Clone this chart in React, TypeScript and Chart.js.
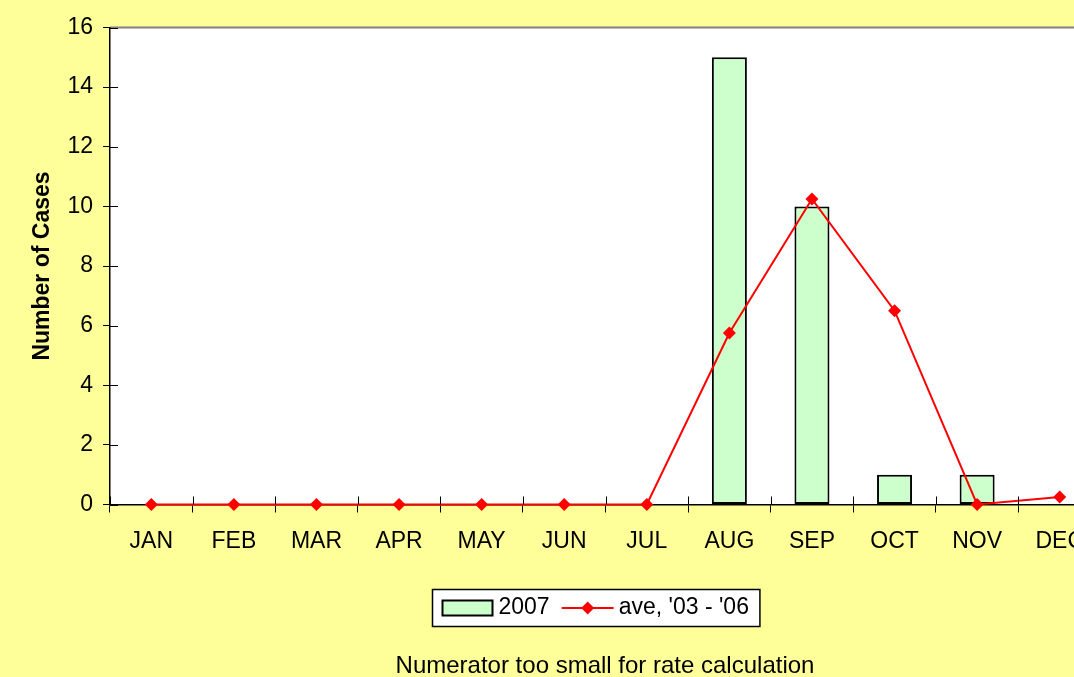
import React, { useEffect, useRef } from "react";
import { Chart, registerables } from "chart.js";

Chart.register(...registerables);

// ---- data ----
const months = ["JAN", "FEB", "MAR", "APR", "MAY", "JUN", "JUL", "AUG", "SEP", "OCT", "NOV", "DEC"];
const cases2007 = [0, 0, 0, 0, 0, 0, 0, 15, 10, 1, 1, 0];
const average0306 = [0, 0, 0, 0, 0, 0, 0, 5.75, 10.25, 6.5, 0, 0.25];
const seriesLabels = ["2007", "ave, '03 - '06"];
const yAxisTitle = "Number of Cases";
const captionText = "Numerator too small for rate calculation";
const yMin = 0;
const yMax = 16;
const yStep = 2;

// ---- style ----
const FONT_FAMILY = '"Liberation Sans", Arial, Helvetica, sans-serif';
const FONT_SIZE = 23;
const PAGE_BG = "#FFFF99";
const BAR_FILL = "#CCFFCC";
const LINE_RED = "#FF0000";
const CANVAS_W = 1210;
const CANVAS_H = 677;
const PLOT_BOTTOM = 504.5;

const backgroundPlugin = {
  id: "bgPlugin",
  beforeDraw(chart: any) {
    const { ctx, chartArea } = chart;
    ctx.save();
    ctx.fillStyle = PAGE_BG;
    ctx.fillRect(0, 0, chart.width, chart.height);
    ctx.fillStyle = "#FFFFFF";
    ctx.fillRect(chartArea.left, chartArea.top, chartArea.right - chartArea.left, chartArea.bottom - chartArea.top);
    ctx.strokeStyle = "#808080";
    ctx.lineWidth = 2;
    ctx.beginPath();
    ctx.moveTo(chartArea.left, chartArea.top);
    ctx.lineTo(chartArea.right, chartArea.top);
    ctx.lineTo(chartArea.right, chartArea.bottom);
    ctx.stroke();
    ctx.restore();
  },
};

const crossTicksPlugin = {
  id: "crossTicks",
  afterDatasetsDraw(chart: any) {
    const { ctx, chartArea } = chart;
    const ys = chart.scales.y;
    const xs = chart.scales.x;
    ctx.save();
    ctx.strokeStyle = "#000000";
    ctx.lineWidth = 1;
    ctx.beginPath();
    ys.ticks.forEach((_t: any, i: number) => {
      const py = Math.round(ys.getPixelForTick(i)) + 0.5;
      ctx.moveTo(chartArea.left, py);
      ctx.lineTo(chartArea.left + 8, py);
    });
    for (let i = 0; i <= months.length; i++) {
      const px = Math.round(xs.getPixelForValue(i - 0.5)) + 0.5;
      ctx.moveTo(px, chartArea.bottom);
      ctx.lineTo(px, chartArea.bottom - 8);
    }
    ctx.stroke();
    ctx.restore();
  },
};

const legendPlugin = {
  id: "boxLegend",
  afterDraw(chart: any) {
    const { ctx } = chart;
    const ds0 = chart.data.datasets[0];
    const ds1 = chart.data.datasets[1];
    ctx.save();
    ctx.font = `${FONT_SIZE}px ${FONT_FAMILY}`;
    const w0 = ctx.measureText(ds0.label).width;
    const w1 = ctx.measureText(ds1.label).width;
    const padL = 10, sw = 50, g1 = 6, gap = 12, lw = 52, g2 = 5, padR = 11;
    const total = padL + sw + g1 + w0 + gap + lw + g2 + w1 + padR;
    const centerX = 595.5;
    const top = 589.5;
    const h = 37;
    const left = Math.round(centerX - total / 2) + 0.5;
    const cy = top + h / 2;
    ctx.fillStyle = "#FFFFFF";
    ctx.fillRect(left, top, total, h);
    ctx.strokeStyle = "#000000";
    ctx.lineWidth = 1.5;
    ctx.strokeRect(left, top, total, h);

    let x = left + padL;
    ctx.fillStyle = ds0.backgroundColor;
    ctx.fillRect(x, cy - 7.5, sw, 15);
    ctx.strokeStyle = "#000000";
    ctx.lineWidth = 2;
    ctx.strokeRect(x, cy - 7.5, sw, 15);
    x += sw + g1;
    ctx.fillStyle = "#000000";
    ctx.textBaseline = "middle";
    ctx.textAlign = "left";
    ctx.fillText(ds0.label, x, cy);
    x += w0 + gap;

    ctx.strokeStyle = ds1.borderColor;
    ctx.lineWidth = 2;
    ctx.beginPath();
    ctx.moveTo(x, cy);
    ctx.lineTo(x + lw, cy);
    ctx.stroke();
    const mx = x + lw / 2;
    const r = 6.5;
    ctx.fillStyle = ds1.pointBackgroundColor;
    ctx.beginPath();
    ctx.moveTo(mx - r, cy);
    ctx.lineTo(mx, cy - r);
    ctx.lineTo(mx + r, cy);
    ctx.lineTo(mx, cy + r);
    ctx.closePath();
    ctx.fill();
    x += lw + g2;
    ctx.fillStyle = "#000000";
    ctx.fillText(ds1.label, x, cy);

    // caption under the legend
    ctx.font = `24px ${FONT_FAMILY}`;
    ctx.textAlign = "center";
    ctx.textBaseline = "middle";
    ctx.fillText(captionText, 605, 666);
    ctx.restore();
  },
};

export default function App() {
  const canvasRef = useRef<HTMLCanvasElement | null>(null);

  useEffect(() => {
    const canvas = canvasRef.current;
    if (!canvas) return;
    const chart = new Chart(canvas, {
      type: "bar",
      data: {
        labels: months,
        datasets: [
          {
            type: "bar",
            label: seriesLabels[0],
            data: cases2007,
            backgroundColor: BAR_FILL,
            borderColor: "#000000",
            borderWidth: 2,
            borderSkipped: false,
            barPercentage: 0.424,
            categoryPercentage: 1,
            order: 2,
          } as any,
          {
            type: "line",
            label: seriesLabels[1],
            data: average0306,
            borderColor: LINE_RED,
            backgroundColor: LINE_RED,
            borderWidth: 2,
            pointStyle: "rectRot",
            pointRadius: 6.5,
            pointBorderWidth: 0,
            pointBackgroundColor: LINE_RED,
            pointBorderColor: LINE_RED,
            tension: 0,
            fill: false,
            clip: false,
            order: 1,
          } as any,
        ],
      },
      options: {
        responsive: false,
        animation: false,
        devicePixelRatio: 1,
        layout: { padding: { top: 27.5, left: 0, right: CANVAS_W - 1101, bottom: 0 } },
        plugins: {
          legend: { display: false },
          tooltip: { enabled: false },
          title: { display: false },
        },
        scales: {
          x: {
            type: "category",
            offset: true,
            grid: {
              display: true,
              offset: true,
              drawOnChartArea: false,
              drawTicks: true,
              tickLength: 8,
              color: "#000000",
              lineWidth: 1,
            },
            border: { display: true, color: "#000000", width: 1.5 },
            ticks: {
              color: "#000000",
              font: { family: FONT_FAMILY, size: FONT_SIZE },
              padding: 15,
              maxRotation: 0,
              autoSkip: false,
            },
            afterFit(scale: any) {
              scale.height = CANVAS_H - PLOT_BOTTOM;
            },
          },
          y: {
            type: "linear",
            min: yMin,
            max: yMax,
            grid: {
              display: true,
              drawOnChartArea: false,
              drawTicks: true,
              tickLength: 7,
              color: "#000000",
              lineWidth: 1,
            },
            border: { display: true, color: "#000000", width: 1.5 },
            ticks: {
              stepSize: yStep,
              color: "#000000",
              font: { family: FONT_FAMILY, size: FONT_SIZE },
              padding: 10,
            },
            title: {
              display: true,
              text: yAxisTitle,
              color: "#000000",
              font: { family: FONT_FAMILY, size: FONT_SIZE, weight: "bold" },
              padding: { top: 29, bottom: 0 },
            },
            afterFit(scale: any) {
              scale.width = 110;
            },
          },
        },
      },
      plugins: [backgroundPlugin, crossTicksPlugin, legendPlugin],
    });
    return () => chart.destroy();
  }, []);

  return (
    <div
      style={{
        position: "fixed",
        left: 0,
        top: 0,
        width: 1074,
        height: 677,
        overflow: "hidden",
        background: PAGE_BG,
      }}
    >
      <canvas ref={canvasRef} width={CANVAS_W} height={CANVAS_H} style={{ width: CANVAS_W, height: CANVAS_H, display: "block" }} />
    </div>
  );
}
